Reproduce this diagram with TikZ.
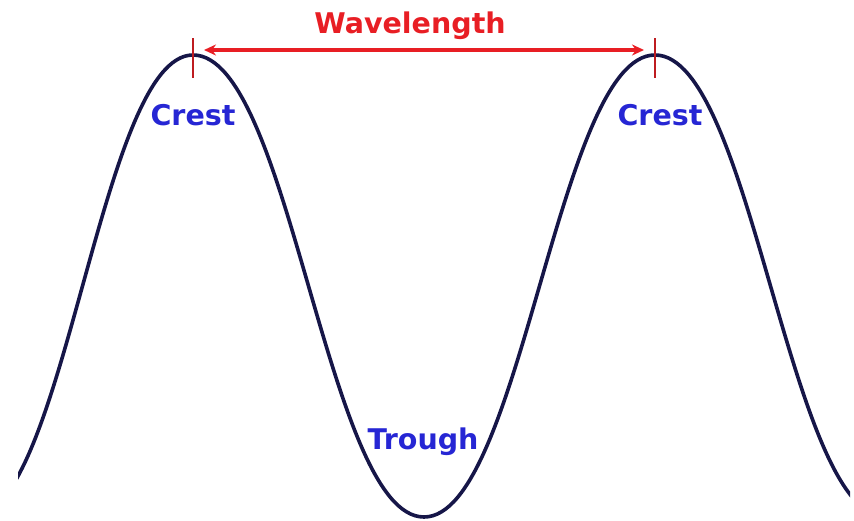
\documentclass[tikz,border=0pt]{standalone}
\usepackage{fontspec}
\setmainfont{DejaVu Sans}
\usetikzlibrary{arrows.meta,positioning,calc}

\definecolor{wavenavy}{RGB}{22,22,72}
\definecolor{wlred}{RGB}{232,30,36}
\definecolor{tickred}{RGB}{190,28,32}
\definecolor{lblblue}{RGB}{38,38,212}

\begin{document}
\begin{tikzpicture}[x=1pt, y=1pt, every node/.style={font=\fontsize{28.5}{32}\selectfont\bfseries}]
			\useasboundingbox (0,0) rectangle (854,520);
			\coordinate (t0) at (-28,3);
			\coordinate (c1) at (193,465);
			\coordinate (tr) at (424,3);
			\coordinate (c2) at (655,465);
			\coordinate (t3) at (886,3);
			\coordinate (wlL) at (204,470);
			\coordinate (wlR) at (644,470);
			% the wave, cut at both sides
			\begin{scope}
				\clip (18,-10) rectangle (850,530);
				\draw[line width=3.6pt, wavenavy]
					(t0) .. controls +(93,0) and +(-93,0) .. (c1)
					.. controls +(97,0) and +(-97,0) .. (tr)
					.. controls +(97,0) and +(-97,0) .. (c2)
					.. controls +(97,0) and +(-97,0) .. (t3);
			\end{scope}
			\foreach \p in {c1, c2} {
				\draw[line width=2.6pt, tickred] ($(\p)+(0,-23)$) -- ($(\p)+(0,17)$);
			}
			\draw[{Stealth[length=12pt,width=11pt]}-{Stealth[length=12pt,width=11pt]}, line width=4pt, wlred] (wlL) -- (wlR);
			\node[wlred] (wl) at (410,494) {Wavelength};
			\node[lblblue] (crest1) at (193,405) {Crest};
			\node[lblblue] (crest2) at (660,405) {Crest};
			\node[lblblue] (trough) at (423,78) {Trough};
		\end{tikzpicture}
\end{document}
